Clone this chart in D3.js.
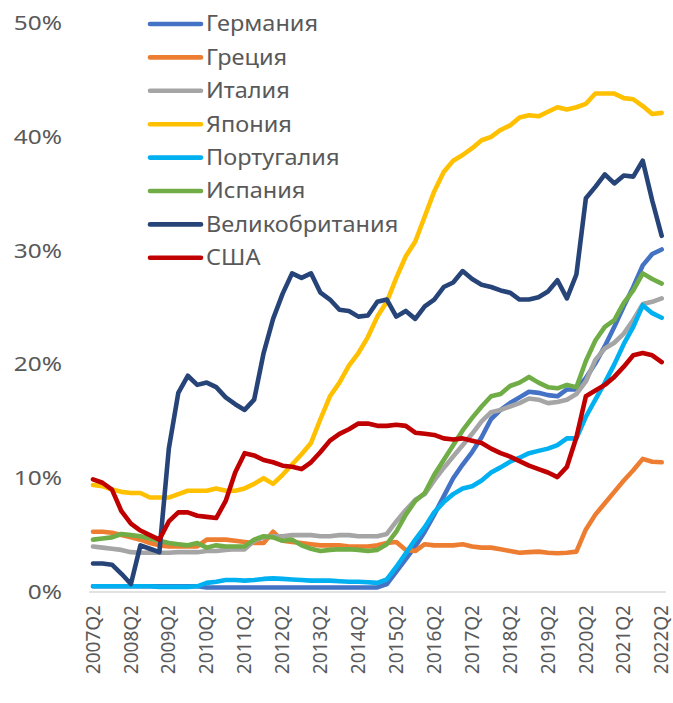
<!DOCTYPE html>
<html>
<head>
<meta charset="utf-8">
<script src="https://cdn.jsdelivr.net/npm/d3@7"></script>
<style>
  html, body { margin: 0; padding: 0; background: #fff; }
  svg { display: block; font-family: "Noto Sans", sans-serif; }
</style>
</head>
<body>
<svg id="chart" width="673" height="703"></svg>
<script>
// quarters 2007Q2 .. 2022Q2
const quarters = [];
for (let y = 2007; y <= 2022; y++) {
  for (let q = 1; q <= 4; q++) {
    if ((y === 2007 && q < 2) || (y === 2022 && q > 2)) continue;
    quarters.push(y + "Q" + q);
  }
}
const tickLabels = quarters.filter(d => d.endsWith("Q2"));
const yTicks = [0, 10, 20, 30, 40, 50];

const names = ["Германия", "Греция", "Италия", "Япония", "Португалия", "Испания", "Великобритания", "США"];
const colors = ["#4472C4", "#ED7D31", "#A5A5A5", "#FFC000", "#00B0F0", "#70AD47", "#264478", "#C00000"];

const germany = [0.5,0.5,0.5,0.5,0.5,0.5,0.5,0.5,0.5,0.5, 0.5,0.5,0.4,0.4,0.4,0.4,0.4,0.4,0.4,0.4,
  0.4,0.4,0.4,0.4,0.4,0.4,0.4,0.4,0.4,0.4, 0.4,0.7,1.8,2.9,4.0,5.3,6.8,8.4,10.0,11.2,
  12.3,13.6,15.2,16.0,16.6,17.1,17.6,17.5,17.3,17.2, 17.8,17.8,18.8,20.1,21.6,23.3,25.1,26.8,28.7,29.7, 30.1];
const greece = [5.3,5.3,5.2,5.0,4.8,4.6,4.3,4.1,4.0,4.0, 4.0,4.0,4.6,4.6,4.6,4.5,4.4,4.3,4.3,5.3,
  4.5,4.4,4.3,4.2,4.1,4.1,4.1,4.0,4.0,4.0, 4.1,4.3,4.4,3.7,3.6,4.2,4.1,4.1,4.1,4.2,
  4.0,3.9,3.9,3.75,3.6,3.45,3.5,3.55,3.45,3.4, 3.45,3.55,5.5,6.8,7.8,8.8,9.8,10.7,11.7,11.45, 11.4];
const italy = [4.0,3.9,3.8,3.7,3.5,3.45,3.45,3.45,3.45,3.5, 3.5,3.5,3.6,3.6,3.7,3.75,3.75,4.5,4.8,4.9,
  4.9,5.0,5.0,5.0,4.9,4.9,5.0,5.0,4.9,4.9, 4.9,5.1,6.2,7.2,8.1,8.6,9.8,10.9,11.9,12.9,
  13.9,15.0,15.8,16.0,16.3,16.6,17.0,16.9,16.6,16.7, 16.9,17.4,18.5,20.4,21.4,21.9,22.7,23.9,25.3,25.5, 25.8];
const japan = [9.4,9.3,9.0,8.8,8.7,8.7,8.3,8.3,8.3,8.6, 8.9,8.9,8.9,9.1,8.9,8.9,9.1,9.5,10.0,9.5,
  10.3,11.2,12.1,13.1,15.2,17.2,18.4,19.9,21.0,22.4, 24.2,25.5,27.6,29.5,30.8,33.0,35.2,36.9,37.9,38.4,
  39.0,39.7,40.0,40.6,41.0,41.7,41.9,41.8,42.2,42.6, 42.4,42.6,42.9,43.8,43.8,43.8,43.4,43.3,42.7,42.0, 42.1];
const portugal = [0.5,0.5,0.5,0.5,0.5,0.5,0.5,0.45,0.45,0.45, 0.45,0.5,0.8,0.9,1.05,1.05,1.0,1.05,1.15,1.2,
  1.15,1.1,1.05,1.0,1.0,1.0,0.95,0.9,0.9,0.85, 0.8,1.1,2.2,3.4,4.6,5.7,7.0,7.9,8.6,9.1,
  9.3,9.8,10.5,10.95,11.45,11.8,12.2,12.4,12.6,12.9, 13.5,13.5,15.4,16.9,18.4,20.0,21.8,23.3,25.2,24.5, 24.1];
const spain = [4.6,4.7,4.8,5.1,5.0,4.9,4.7,4.5,4.3,4.2, 4.1,4.3,3.9,4.1,4.0,4.0,4.0,4.6,4.9,4.8,
  4.5,4.6,4.1,3.8,3.6,3.7,3.75,3.75,3.7,3.6, 3.7,4.2,5.3,6.8,8.0,8.7,10.3,11.6,12.9,14.2,
  15.3,16.3,17.2,17.4,18.1,18.4,18.9,18.4,18.0,17.9, 18.2,18.0,20.3,22.1,23.3,23.9,25.4,26.5,28.0,27.5, 27.1];
const uk = [2.5,2.5,2.4,1.6,0.7,4.1,3.8,3.5,12.6,17.5, 19.0,18.2,18.4,18.0,17.1,16.5,16.0,16.9,21.0,24.0,
  26.2,28.0,27.6,28.0,26.3,25.7,24.8,24.7,24.2,24.3, 25.5,25.7,24.2,24.7,24.0,25.1,25.7,26.8,27.2,28.2,
  27.5,27.0,26.8,26.5,26.3,25.7,25.7,25.9,26.4,27.4, 25.8,27.9,34.6,35.6,36.7,35.9,36.6,36.5,37.9,34.4, 31.3];
const usa = [9.9,9.6,9.0,7.1,6.0,5.4,5.0,4.6,6.2,7.0, 7.0,6.7,6.6,6.5,8.0,10.5,12.2,12.0,11.6,11.4,
  11.1,11.0,10.8,11.4,12.3,13.3,13.9,14.3,14.8,14.8, 14.6,14.6,14.7,14.6,14.0,13.9,13.8,13.5,13.4,13.5,
  13.3,13.1,12.6,12.2,11.9,11.5,11.1,10.8,10.5,10.1, 11.0,13.6,17.2,17.7,18.2,18.9,19.8,20.8,21.0,20.8, 20.2];

const seriesValues = [germany, greece, italy, japan, portugal, spain, uk, usa];
const series = names.map((name, k) => ({ name, color: colors[k], values: seriesValues[k] }));

const svg = d3.select("#chart");
const textColor = "#595959";

const x = d3.scalePoint().domain(quarters).range([93, 661.7]);
const y = d3.scaleLinear().domain([0, 50]).range([592, 23]);

// stretch text a bit wider, the original uses a wide geometric face
function widen(sel, k) {
  sel.each(function () {
    const w = this.getComputedTextLength();
    d3.select(this).attr("textLength", w * k).attr("lengthAdjust", "spacingAndGlyphs");
  });
}

// y labels
svg.append("g")
  .selectAll("text")
  .data(yTicks)
  .join("text")
  .attr("x", 62)
  .attr("y", d => y(d))
  .attr("dy", "0.35em")
  .attr("text-anchor", "end")
  .attr("font-size", 20)
  .attr("fill", textColor)
  .text(d => d + "%")
  .call(widen, 1.22);

// x axis line
svg.append("line")
  .attr("x1", 89).attr("x2", 666)
  .attr("y1", 592).attr("y2", 592)
  .attr("stroke", "#D9D9D9")
  .attr("stroke-width", 1.5);

// x labels rotated
svg.append("g")
  .selectAll("text")
  .data(tickLabels)
  .join("text")
  .attr("transform", d => `translate(${x(d)},605) rotate(-90)`)
  .attr("dy", "0.35em")
  .attr("text-anchor", "end")
  .attr("font-size", 19)
  .attr("fill", textColor)
  .text(d => d);

const line = d3.line()
  .x((d, i) => x(quarters[i]))
  .y(d => y(d));

svg.append("g")
  .selectAll("path")
  .data(series)
  .join("path")
  .attr("d", d => line(d.values))
  .attr("fill", "none")
  .attr("stroke", d => d.color)
  .attr("stroke-width", 4.6)
  .attr("stroke-linejoin", "round")
  .attr("stroke-linecap", "round");

// legend
const legend = svg.append("g")
  .selectAll("g")
  .data(series)
  .join("g")
  .attr("transform", (d, i) => `translate(0,${24 + i * 33.4})`);

legend.append("line")
  .attr("x1", 150).attr("x2", 201)
  .attr("stroke", d => d.color)
  .attr("stroke-width", 4.6)
  .attr("stroke-linecap", "round");

legend.append("text")
  .attr("x", 206)
  .attr("dy", "0.35em")
  .attr("font-size", 21)
  .attr("fill", textColor)
  .text(d => d.name)
  .call(widen, 1.12);
</script>
</body>
</html>
